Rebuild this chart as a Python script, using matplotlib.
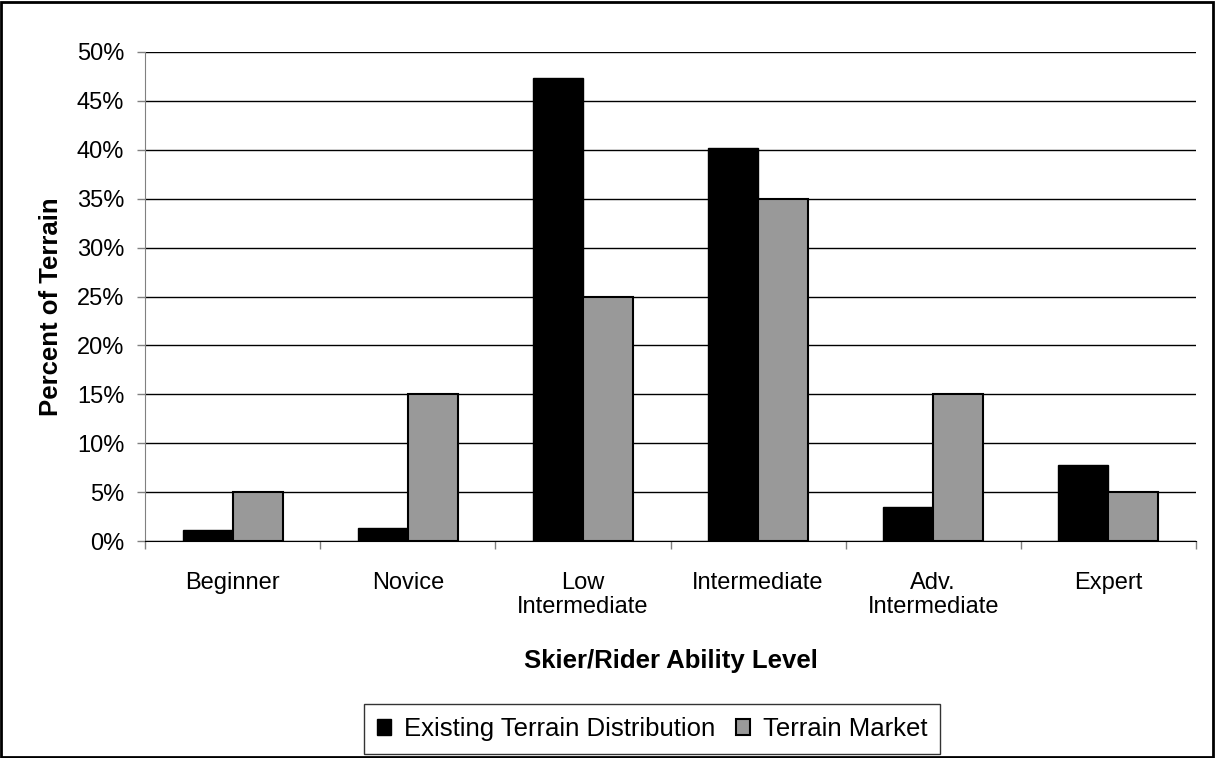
import numpy as np
import matplotlib.pyplot as plt
from matplotlib.ticker import PercentFormatter, FixedLocator
from matplotlib.patches import Rectangle

categories = ["Beginner", "Novice", "Low\nIntermediate", "Intermediate",
              "Adv.\nIntermediate", "Expert"]
existing = [1.1, 1.3, 47.3, 40.2, 3.5, 7.8]
market = [5, 15, 25, 35, 15, 5]
series_names = ["Existing Terrain Distribution", "Terrain Market"]

plt.rcParams['font.family'] = ['Liberation Sans', 'DejaVu Sans']

fig = plt.figure(figsize=(12.15, 7.58), dpi=100)
ax = fig.add_axes([145 / 1215, 1 - 541 / 758, (1196 - 145) / 1215, (541 - 52) / 758])

# border around the whole chart
fig.patches.append(Rectangle((0.001, 0.0015), 0.997, 0.996, transform=fig.transFigure,
                             fill=False, edgecolor='black', linewidth=2))

x = np.arange(len(categories))
w = 1 / 3.5  # excel gap width 150%
ax.bar(x - w / 2, existing, w, color='black', edgecolor='black', linewidth=1,
       label=series_names[0], zorder=3)
ax.bar(x + w / 2, market, w, color='#999999', edgecolor='black', linewidth=1.5,
       label=series_names[1], zorder=3)

ax.set_xlim(-0.5, len(categories) - 0.5)
ax.set_ylim(0, 50)
ax.set_yticks(np.arange(0, 51, 5))
ax.yaxis.set_major_formatter(PercentFormatter(decimals=0))
ax.grid(axis='y', color='black', linewidth=1, zorder=0)

# ticks at category boundaries, labels at centers
ax.xaxis.set_major_locator(FixedLocator(np.arange(-0.5, len(categories), 1)))
ax.xaxis.set_minor_locator(FixedLocator(x))
ax.set_xticklabels([])
ax.set_xticklabels(categories, minor=True, fontsize=17, linespacing=1.15)
ax.tick_params(axis='x', which='major', length=6, width=1, color='#808080', direction='out')
ax.tick_params(axis='x', which='minor', length=0, pad=22)
ax.tick_params(axis='y', length=6, width=1, color='#808080', labelsize=17, pad=9)

for s in ['top', 'right']:
    ax.spines[s].set_visible(False)
ax.spines['left'].set_color('#808080')
ax.spines['bottom'].set_color('black')

ax.set_ylabel("Percent of Terrain", fontsize=18.5, fontweight='bold', labelpad=10)
ax.yaxis.label.set_y(0.48)
ax.set_xlabel("Skier/Rider Ability Level", fontsize=18.5, fontweight='bold', labelpad=22)

leg = fig.legend(loc='center', bbox_to_anchor=(652 / 1215, 1 - 729 / 758), ncol=2,
                 frameon=True, fancybox=False, edgecolor='black', fontsize=18.5,
                 handlelength=0.55, handleheight=0.55, handletextpad=0.5,
                 columnspacing=0.8, borderpad=0.5, borderaxespad=0)
leg.get_frame().set_linewidth(1)

fig.savefig("out.png", dpi=100)
